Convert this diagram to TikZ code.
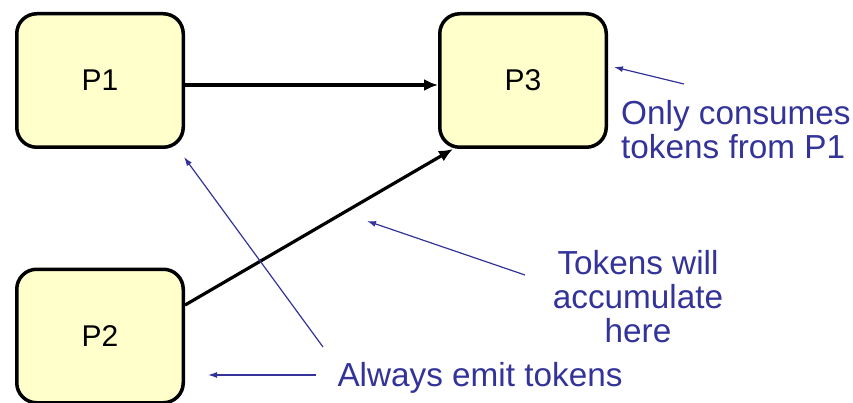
\documentclass[tikz,border=0pt]{standalone}
\usepackage{fontspec}
\setmainfont{Liberation Sans}
\usetikzlibrary{arrows.meta}

\definecolor{procfill}{RGB}{255,255,204}
\definecolor{notecolor}{RGB}{51,51,153}

\begin{document}
\begin{tikzpicture}[
    x=1pt, y=-1pt, % one unit per pixel, y downwards
    >=Latex, % Set default arrow tip style
    proc/.style={draw, line width=3.5pt, rounded corners=20pt, fill=procfill,
        minimum width=166.5pt, minimum height=133.5pt,
        font=\fontsize{30}{34}\selectfont}, % Style for the processes
    flow/.style={->, line width=3.2pt, >={Latex[length=14pt, width=12pt]}}, % Style for token flow
    note/.style={notecolor, font=\fontsize{33.3}{34}\selectfont, inner sep=0pt}, % Style for remarks
    pointer/.style={->, notecolor, line width=1.2pt, >={Latex[length=9pt, width=6pt]}} % Style for remark arrows
]

    \clip (0, 0) rectangle (853, 403);

    % Processes
    \node[proc] (p1) at (100, 80.5) {P1};
    \node[proc] (p3) at (523, 80.5) {P3};
    \node[proc] (p2) at (100, 336) {P2};

    % Token flow
    \draw[flow] ([yshift=-4.5pt]p1.east) -- ([yshift=-4.5pt]p3.west);
    \draw[flow] (p2.20) -- ([xshift=15pt]p3.south west);

    % Remarks
    \node[note, anchor=west, align=left] (consumeNote) at (621, 130) {Only consumes\\tokens from P1};
    \node[note, align=center] (accumNote) at (638, 297) {Tokens will\\accumulate\\here};
    \node[note] (emitNote) at (480, 378) {Always emit tokens};

    % Remark arrows
    \coordinate (consumeTail) at (684, 84);
    \coordinate (consumeTip) at (614, 67);
    \coordinate (accumTail) at (525, 275);
    \coordinate (accumTip) at (367, 221);
    \coordinate (emitTailA) at (323, 347);
    \coordinate (emitTipA) at (184, 157);
    \coordinate (emitTailB) at (316, 375);
    \coordinate (emitTipB) at (208, 375);

    \draw[pointer] (consumeTail) -- (consumeTip);
    \draw[pointer] (accumTail) -- (accumTip);
    \draw[pointer] (emitTailA) -- (emitTipA);
    \draw[pointer] (emitTailB) -- (emitTipB);

\end{tikzpicture}
\end{document}
